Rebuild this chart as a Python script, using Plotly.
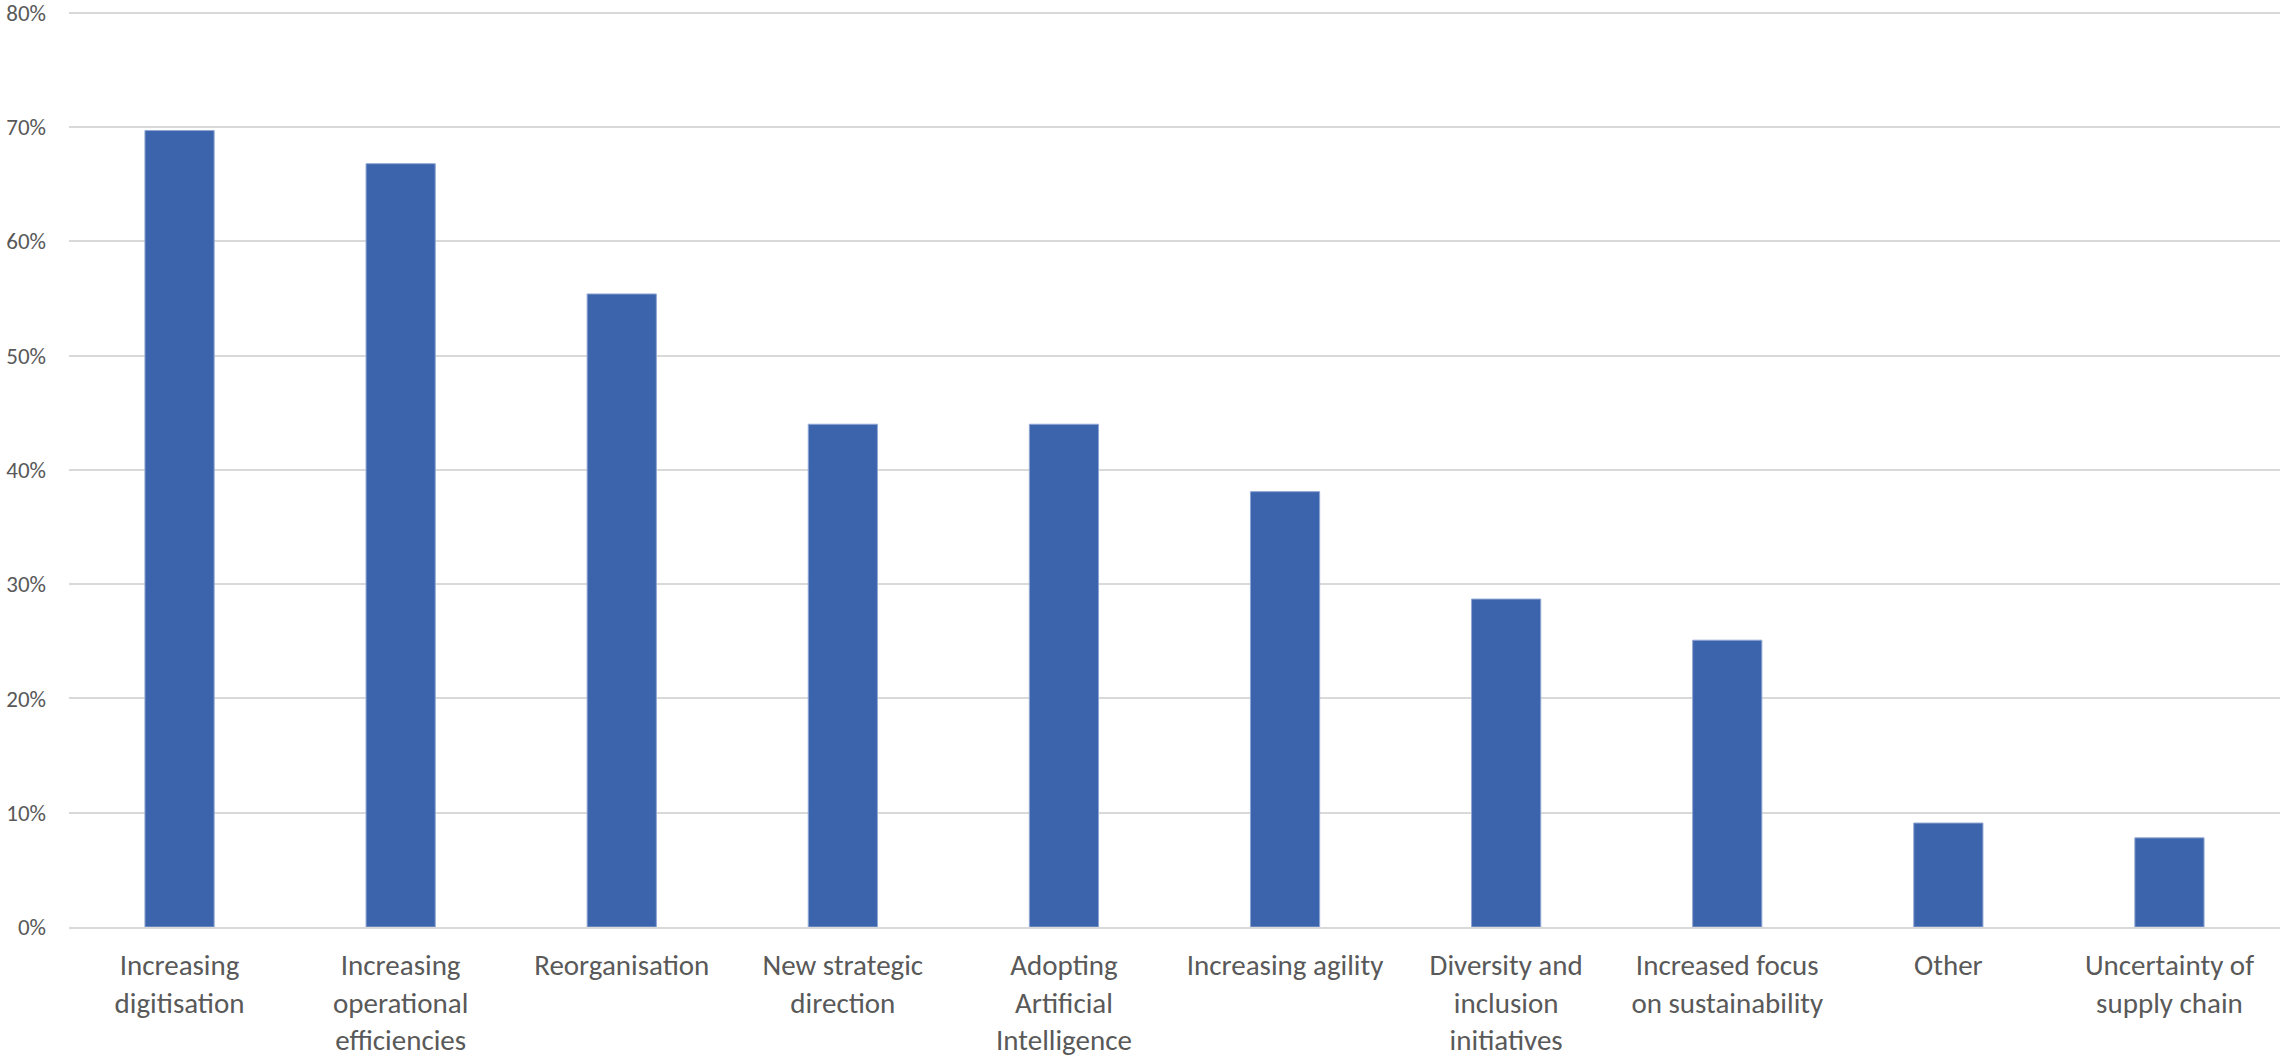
import plotly.graph_objects as go

# Share of respondents citing each driver of change
categories = [
    "Increasing digitisation",
    "Increasing operational efficiencies",
    "Reorganisation",
    "New strategic direction",
    "Adopting Artificial Intelligence",
    "Increasing agility",
    "Diversity and inclusion initiatives",
    "Increased focus on sustainability",
    "Other",
    "Uncertainty of supply chain",
]
tick_labels = [
    "Increasing<br>digitisation",
    "Increasing<br>operational<br>efficiencies",
    "Reorganisation",
    "New strategic<br>direction",
    "Adopting<br>Artificial<br>Intelligence",
    "Increasing agility",
    "Diversity and<br>inclusion<br>initiatives",
    "Increased focus<br>on sustainability",
    "Other",
    "Uncertainty of<br>supply chain",
]
values = [0.697, 0.668, 0.554, 0.440, 0.440, 0.381, 0.287, 0.251, 0.091, 0.078]
y_ticks = [0, 0.1, 0.2, 0.3, 0.4, 0.5, 0.6, 0.7, 0.8]

positions = list(range(len(categories)))

FONT = "Carlito, Calibri, Lato, sans-serif"
TEXT = "#595959"
GRID = "#D9D9D9"

fig = go.Figure(
    go.Bar(
        x=positions,
        y=values,
        customdata=categories,
        hovertemplate="%{customdata}: %{y:.1%}<extra></extra>",
        marker=dict(color="#3C64AC", line=dict(color="#8FA6D2", width=1)),
    )
)

fig.update_layout(
    width=2280,
    height=1062,
    margin=dict(l=69, r=0, t=6, b=135, autoexpand=False),
    paper_bgcolor="white",
    plot_bgcolor="white",
    bargap=0.687,
    showlegend=False,
    font=dict(family=FONT, color=TEXT),
)

fig.update_xaxes(
    range=[-0.5, len(categories) - 0.5],
    tickmode="array",
    tickvals=positions,
    ticktext=tick_labels,
    tickfont=dict(size=29, color=TEXT, family=FONT),
    ticks="",
    ticklabelstandoff=11,
    ticklabeloverflow="allow",
    showgrid=False,
    showline=True,
    linecolor=GRID,
    linewidth=2,
    zeroline=False,
    automargin=False,
)

fig.update_yaxes(
    range=[0, 0.806],
    tickmode="array",
    tickvals=y_ticks,
    tickformat=".0%",
    tickfont=dict(size=23, color=TEXT, family=FONT),
    ticks="",
    ticklabelstandoff=22,
    ticklabeloverflow="allow",
    showgrid=True,
    gridcolor=GRID,
    gridwidth=2,
    zeroline=False,
    showline=False,
    automargin=False,
)

fig.write_html("out.html")
